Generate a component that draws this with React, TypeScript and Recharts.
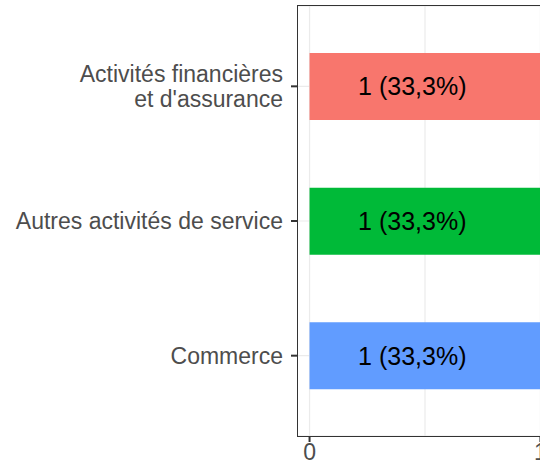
import { BarChart, Bar, XAxis, YAxis, CartesianGrid, Cell, LabelList } from "recharts";

const categories = ["Activités financières\net d'assurance", "Autres activités de service", "Commerce"];
const counts = [1, 1, 1];
const barLabels = ["1 (33,3%)", "1 (33,3%)", "1 (33,3%)"];
const colors = ["#F8766D", "#00BA38", "#619CFF"];
const xDomain = [-0.05, 1.05];
const xTicks = [0, 1];
const xGrid = [0, 0.5, 1];

const data = categories.map((name, i) => ({ name, value: counts[i], label: barLabels[i] }));

const FONT = "'Liberation Sans', Arial, Helvetica, sans-serif";

// map data value -> pixel using the plot area offset
const gridX = ({ xAxis, offset }: any) => {
  if (xAxis && typeof xAxis.scale === "function") return xGrid.map((v) => xAxis.scale(v));
  const [d0, d1] = xDomain;
  return xGrid.map((v) => offset.left + ((v - d0) / (d1 - d0)) * offset.width);
};

const CatTick = ({ x, y, payload }: any) => {
  const lines = String(payload.value).split("\n");
  const lh = 25;
  const y0 = y - ((lines.length - 1) * lh) / 2;
  return (
    <text x={x} y={y0} textAnchor="end" fill="#4d4d4d" fontSize={23} fontFamily={FONT}>
      {lines.map((l: string, i: number) => (
        <tspan key={i} x={x} y={y0 + i * lh} dy="0.35em">
          {l}
        </tspan>
      ))}
    </text>
  );
};

const BarText = ({ x, y, width, height, value }: any) => (
  <text
    x={x + width * 0.445}
    y={y + height / 2}
    dy="0.35em"
    textAnchor="middle"
    fill="#000"
    fontSize={25}
    fontFamily={FONT}
  >
    {value}
  </text>
);

export default function App() {
  return (
    <div
      style={{
        position: "absolute",
        left: 0,
        top: 0,
        width: 540,
        height: 470,
        overflow: "hidden",
        background: "#fff",
      }}
    >
      <div style={{ position: "relative", width: 560, height: 470 }}>
        <BarChart
          width={560}
          height={470}
          data={data}
          layout="vertical"
          margin={{ top: 6, right: 8, bottom: 0, left: 0 }}
        >
          <CartesianGrid stroke="#ebebeb" strokeWidth={1.2} verticalCoordinatesGenerator={gridX} />
          <XAxis
            type="number"
            domain={xDomain}
            ticks={xTicks}
            axisLine={false}
            tickSize={6}
            tickMargin={2}
            height={34}
            tickLine={{ stroke: "#333", strokeWidth: 2 }}
            tick={{ fill: "#4d4d4d", fontSize: 23, fontFamily: FONT }}
          />
          <YAxis
            type="category"
            dataKey="name"
            width={298}
            padding={{ top: 13, bottom: 13 }}
            axisLine={false}
            tickSize={7}
            tickMargin={8}
            tickLine={{ stroke: "#333", strokeWidth: 2 }}
            tick={<CatTick />}
            interval={0}
          />
          <Bar dataKey="value" barSize={67} isAnimationActive={false}>
            {data.map((d, i) => (
              <Cell key={d.name} fill={colors[i]} />
            ))}
            <LabelList dataKey="label" content={<BarText />} />
          </Bar>
        </BarChart>
        <div
          style={{
            position: "absolute",
            left: 297,
            top: 5,
            width: 254,
            height: 430,
            border: "1.5px solid #333",
            pointerEvents: "none",
          }}
        />
      </div>
    </div>
  );
}
